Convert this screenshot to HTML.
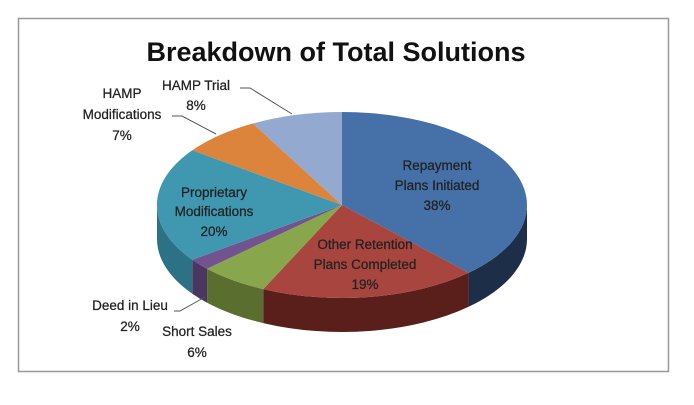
<!DOCTYPE html>
<html><head><meta charset="utf-8"><style>
html,body{margin:0;padding:0;background:#fff;}
svg{display:block;}
text{font-family:"Liberation Sans",sans-serif;font-size:13.5px;fill:#222;text-anchor:middle;stroke:#222;stroke-width:0.25;}
</style></head><body>
<svg id="s" width="694" height="405" xmlns="http://www.w3.org/2000/svg">
<rect x="18.5" y="18.5" width="650" height="353" fill="#fff" stroke="#999" stroke-width="1.5"/>
<text x="336" y="61" style="font-size:27px;font-weight:bold;fill:#111;stroke:none">Breakdown of Total Solutions</text>
<g id="pie"></g>
<g stroke="#555" stroke-width="1" fill="none">
<polyline points="240,88 250,88 292,114"/>
<polyline points="172,116 182,116 216,134"/>
<polyline points="174,311 180,311 205,297"/>
</g>
<text x="437" y="170">Repayment</text>
<text x="437" y="190">Plans Initiated</text>
<text x="437" y="210">38%</text>
<text x="214" y="197">Proprietary</text>
<text x="214" y="216">Modifications</text>
<text x="214" y="236">20%</text>
<text x="365" y="249">Other Retention</text>
<text x="365" y="269">Plans Completed</text>
<text x="365" y="289">19%</text>
<text x="196" y="90">HAMP Trial</text>
<text x="196" y="110">8%</text>
<text x="122" y="98">HAMP</text>
<text x="122" y="119">Modifications</text>
<text x="122" y="140">7%</text>
<text x="130" y="310">Deed in Lieu</text>
<text x="130" y="331">2%</text>
<text x="197" y="336">Short Sales</text>
<text x="197" y="357">6%</text>
</svg>
<script>
(function(){
var cx=342,cy=205,rx=185,ry=93,d=34;
var sl=[[-90,46.8,'#4570a8','#1d2f48'],[46.8,115.2,'#a8453f','#5a1e1b'],[115.2,136.8,'#88a64c','#5a6e2f'],[136.8,144,'#71548f','#4a375f'],[144,216,'#3f98b0','#2c7185'],[216,241.2,'#dc843c','#9a5a28'],[241.2,270,'#93a9cf','#6c7f9f']];
function P(t,o){var r=t*Math.PI/180;return [(cx+rx*Math.cos(r)).toFixed(1),(cy+(o||0)+ry*Math.sin(r)).toFixed(1)];}
var g=document.getElementById('pie'),h='';
sl.forEach(function(s){
 var a=Math.max(s[0],0),b=Math.min(s[1],180);
 if(b>a){var p1=P(a),p2=P(b),q2=P(b,d),q1=P(a,d);
  h+='<path d="M'+p1+' A'+rx+','+ry+' 0 0 1 '+p2+' L'+q2+' A'+rx+','+ry+' 0 0 0 '+q1+' Z" fill="'+s[3]+'"/>';}
});
sl.forEach(function(s){
 var p1=P(s[0]),p2=P(s[1]),lg=(s[1]-s[0])>180?1:0;
 h+='<path d="M'+cx+','+cy+' L'+p1+' A'+rx+','+ry+' 0 '+lg+' 1 '+p2+' Z" fill="'+s[2]+'"/>';
});
g.innerHTML=h;
})();
</script>
</body></html>
